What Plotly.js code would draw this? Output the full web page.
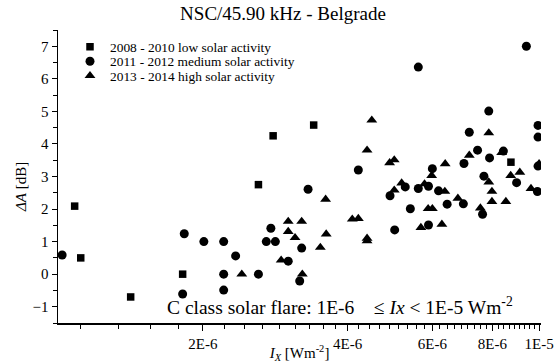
<!DOCTYPE html>
<html>
<head>
<meta charset="utf-8">
<script src="https://cdn.plot.ly/plotly-3.0.1.min.js"></script>
<style>html,body{margin:0;padding:0;background:#fff;}#chart{width:556px;height:363px;}</style>
</head>
<body>
<div id="chart"></div>
<script>
// 2008 - 2010 low solar activity
var lowX = [1.083e-6, 1.115e-6, 1.416e-6, 1.816e-6, 2.61e-6, 2.80e-6, 3.40e-6, 8.74e-6];
var lowY = [2.09, 0.50, -0.70, 0.00, 2.75, 4.25, 4.58, 3.44];

// 2011 - 2012 medium solar activity
var medX = [1.02e-6, 1.83e-6, 1.816e-6, 2.01e-6, 2.21e-6, 2.21e-6, 2.21e-6, 2.34e-6, 2.61e-6, 2.71e-6,
            2.77e-6, 2.83e-6, 3.01e-6, 3.18e-6, 3.21e-6, 3.31e-6, 4.21e-6, 4.90e-6, 5.01e-6, 5.27e-6,
            5.40e-6, 5.61e-6, 5.61e-6, 5.89e-6, 5.89e-6, 6.00e-6, 6.18e-6, 6.44e-6, 6.98e-6, 6.96e-6,
            7.16e-6, 7.45e-6, 7.68e-6, 7.63e-6, 7.86e-6, 7.89e-6, 8.43e-6, 8.98e-6, 9.41e-6, 9.95e-6,
            9.95e-6, 9.95e-6, 9.92e-6];
var medY = [0.59, 1.24, -0.61, 1.00, 1.00, 0.00, -0.49, 0.56, 0.00, 1.00,
            1.41, 1.00, 0.40, -0.21, 0.80, 2.61, 3.20, 2.41, 1.36, 2.68,
            2.01, 6.36, 2.63, 2.70, 1.51, 3.24, 2.56, 2.15, 3.40, 2.16,
            4.36, 3.81, 3.01, 1.84, 5.01, 3.57, 3.78, 2.81, 7.00, 4.57,
            4.21, 3.32, 2.54];

// 2013 - 2014 high solar activity
var highX = [2.41e-6, 2.91e-6, 3.01e-6, 3.01e-6, 3.11e-6, 3.21e-6, 3.22e-6, 3.51e-6, 3.60e-6, 3.61e-6,
             4.09e-6, 4.21e-6, 4.39e-6, 4.39e-6, 4.39e-6, 4.49e-6, 4.89e-6, 5.00e-6, 5.00e-6, 5.18e-6,
             5.68e-6, 5.78e-6, 5.88e-6, 6.00e-6, 5.98e-6, 6.28e-6, 6.38e-6, 6.37e-6, 6.78e-6, 7.16e-6,
             7.55e-6, 7.86e-6, 7.86e-6, 7.98e-6, 7.98e-6, 8.36e-6, 8.53e-6, 8.73e-6, 9.12e-6, 9.62e-6,
             1.0e-5];
var highY = [0.00, 0.43, 1.62, 1.31, 1.12, 1.62, 0.00, 0.82, 2.30, 1.23,
             1.69, 1.71, 3.81, 1.10, 1.02, 4.73, 3.42, 3.51, 2.58, 2.80,
             1.43, 2.77, 2.01, 2.01, 3.03, 1.53, 3.39, 2.54, 2.33, 3.65,
             2.03, 4.34, 2.83, 2.54, 2.23, 3.73, 2.23, 3.03, 3.13, 2.63,
             3.39];

var seriesNames = ['2008 - 2010 low solar activity', '2011 - 2012 medium solar activity', '2013 - 2014 high solar activity'];

var xTickVals = [2e-6, 4e-6, 6e-6, 8e-6, 1e-5];
var xTickText = ['2E-6', '4E-6', '6E-6', '8E-6', '1E-5'];
var xMinorVals = [];
for (var i = 5; i <= 45; i++) { if (i % 9 !== 0) xMinorVals.push(i * (2e-6 / 9)); }

var font = '"Liberation Serif", "Times New Roman", serif';
var plotW = 556 - 58 - 15;

var traces = [
  {x: lowX, y: lowY, name: seriesNames[0], type: 'scatter', mode: 'markers', legend: 'legend',
   marker: {symbol: 'square', size: 7.5, color: '#000'}},
  {x: medX, y: medY, name: seriesNames[1], type: 'scatter', mode: 'markers', legend: 'legend2',
   marker: {symbol: 'circle', size: 9, color: '#000'}},
  {x: highX, y: highY, name: seriesNames[2], type: 'scatter', mode: 'markers', legend: 'legend3',
   marker: {symbol: 'triangle-up', size: 9.5, color: '#000'}}
];

function leg(yc) {
  return {x: 12 / plotW, y: yc, xanchor: 'left', yanchor: 'middle', bgcolor: 'rgba(0,0,0,0)',
          borderwidth: 0, font: {family: font, size: 13.4, color: '#000'}, itemclick: false};
}

var layout = {
  width: 556, height: 363,
  margin: {l: 58, r: 15, t: 30, b: 40},
  paper_bgcolor: '#fff', plot_bgcolor: '#fff',
  font: {family: font, color: '#000', size: 14},
  title: {text: 'NSC/45.90 kHz - Belgrade', font: {family: font, size: 19, color: '#000'},
          xref: 'container', x: 283 / 556, xanchor: 'center', yref: 'container', y: 1 - 13 / 363, yanchor: 'middle'},
  showlegend: true,
  legend: leg(0.942),
  legend2: leg(0.8925),
  legend3: leg(0.843),
  xaxis: {
    type: 'log', range: [-6, -4.996],
    tickmode: 'array', tickvals: xTickVals, ticktext: xTickText,
    ticks: 'outside', ticklen: 6, tickwidth: 1, tickcolor: '#000',
    showline: true, linecolor: '#000', linewidth: 1.5, showgrid: false, zeroline: false,
    minor: {tickmode: 'array', tickvals: xMinorVals, ticks: 'outside', ticklen: 4, tickwidth: 1, tickcolor: '#000', showgrid: false},
    tickfont: {family: font, size: 15, color: '#000'},
    title: {text: '<i>I<sub>X</sub></i> [Wm<sup>-2</sup>]', font: {family: font, size: 15, color: '#000'}, standoff: 2}
  },
  yaxis: {
    range: [-1.5, 7.5], tickmode: 'linear', tick0: 0, dtick: 1,
    ticks: 'outside', ticklen: 5, tickwidth: 1, tickcolor: '#000',
    showline: true, linecolor: '#000', linewidth: 1.5, showgrid: false, zeroline: false,
    minor: {tickmode: 'linear', dtick: 0.5, ticks: 'outside', ticklen: 4, tickwidth: 1, tickcolor: '#000', showgrid: false},
    tickfont: {family: font, size: 15, color: '#000'}
  },
  annotations: [
    {xref: 'paper', yref: 'paper', x: (21 - 58) / plotW, y: 1 - (187 - 30) / 293, xanchor: 'center', yanchor: 'middle',
     showarrow: false, textangle: -90, text: '<i>ΔA</i> [dB]', font: {family: font, size: 15, color: '#000'}},
    {xref: 'paper', yref: 'paper', x: (165 - 58) / plotW, y: 1 - (306 - 30) / 293, xanchor: 'left', yanchor: 'middle', showarrow: false,
     text: 'C class solar flare: 1E-6    ≤ <i>Ix</i> < 1E-5 Wm<sup>-2</sup>',
     font: {family: font, size: 19.5, color: '#000'}}
  ]
};

Plotly.newPlot('chart', traces, layout, {displayModeBar: false, staticPlot: true});
</script>
</body>
</html>
